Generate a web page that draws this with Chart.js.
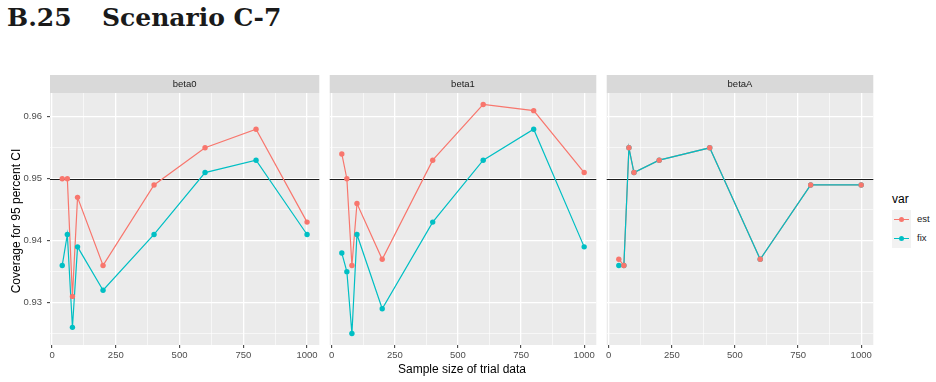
<!DOCTYPE html>
<html>
<head>
<meta charset="utf-8">
<script src="https://cdn.jsdelivr.net/npm/chart.js@4"></script>
<style>
  body { margin: 0; width: 936px; height: 382px; background: #fff; position: relative; overflow: hidden; font-family: "Liberation Sans", Arial, sans-serif; }
  canvas { position: absolute; }
  .head { position: absolute; top: 3px; font: bold 25px "DejaVu Serif", serif; color: #1a1a1a; white-space: nowrap; line-height: 30px; }
  .axtitle { position: absolute; font-size: 12px; line-height: 12px; color: #000; white-space: nowrap; text-align: center; }
  .legkey { position: absolute; left: 892px; width: 19px; height: 19px; background: #f2f2f2; }
  .legkey .ln { position: absolute; left: 2px; width: 15px; top: 9px; height: 1px; }
  .legkey .pt { position: absolute; left: 7px; top: 7px; width: 5px; height: 5px; border-radius: 50%; }
  .leglab { position: absolute; left: 917px; font-size: 9.5px; line-height: 10px; color: #1a1a1a; }
</style>
</head>
<body>
<div class="head" style="left:7px">B.25</div>
<div class="head" style="left:102px">Scenario C-7</div>

<canvas id="c0" width="322" height="310" style="left:0px;top:60px"></canvas>
<canvas id="c1" width="272" height="310" style="left:327px;top:60px"></canvas>
<canvas id="c2" width="272" height="310" style="left:604px;top:60px"></canvas>

<div class="axtitle" style="left:362px;top:363px;width:200px">Sample size of trial data</div>
<div class="axtitle" style="left:-84px;top:215px;width:200px;transform:rotate(-90deg)">Coverage for 95 percent CI</div>

<div class="axtitle" style="left:892px;top:193px;text-align:left">var</div>
<div class="legkey" style="top:210px"><div class="ln" style="background:#F8766D"></div><div class="pt" style="background:#F8766D"></div></div>
<div class="legkey" style="top:229px"><div class="ln" style="background:#00BFC4"></div><div class="pt" style="background:#00BFC4"></div></div>
<div class="leglab" style="top:214px">est</div>
<div class="leglab" style="top:233px">fix</div>

<script>
// --- DATA ---
const SAMPLE_SIZES = [40, 60, 80, 100, 200, 400, 600, 800, 1000];
const PANELS = ['beta0', 'beta1', 'betaA'];

const EST_BETA0 = [0.950, 0.950, 0.931, 0.947, 0.936, 0.949, 0.955, 0.958, 0.943];
const FIX_BETA0 = [0.936, 0.941, 0.926, 0.939, 0.932, 0.941, 0.951, 0.953, 0.941];
const EST_BETA1 = [0.954, 0.950, 0.936, 0.946, 0.937, 0.953, 0.962, 0.961, 0.951];
const FIX_BETA1 = [0.938, 0.935, 0.925, 0.941, 0.929, 0.943, 0.953, 0.958, 0.939];
const EST_BETAA = [0.937, 0.936, 0.955, 0.951, 0.953, 0.955, 0.937, 0.949, 0.949];
const FIX_BETAA = [0.936, 0.936, 0.955, 0.951, 0.953, 0.955, 0.937, 0.949, 0.949];

const X_TICKS = [0, 125, 250, 375, 500, 625, 750, 875, 1000];
const X_MAJOR = [0, 250, 500, 750, 1000];
const Y_TICKS = [0.925, 0.93, 0.935, 0.94, 0.945, 0.95, 0.955, 0.96];
const Y_MAJOR = [0.93, 0.94, 0.95, 0.96];
const REF_LINE = 0.95;

const EST_COLOR = '#F8766D';
const FIX_COLOR = '#00BFC4';
const FONT = '"Liberation Sans", Arial, sans-serif';

// ggplot-style 5% expansion of the data range
const allY = [].concat(EST_BETA0, FIX_BETA0, EST_BETA1, FIX_BETA1, EST_BETAA, FIX_BETAA);
const yLo = Math.min(...allY), yHi = Math.max(...allY);
const Y_MIN = yLo - (yHi - yLo) * 0.05, Y_MAX = yHi + (yHi - yLo) * 0.05;
const xLo = Math.min(...SAMPLE_SIZES), xHi = Math.max(...SAMPLE_SIZES);
const X_MIN = xLo - (xHi - xLo) * 0.05, X_MAX = xHi + (xHi - xLo) * 0.05;

const isIn = (arr, v) => arr.some(m => Math.abs(m - v) < 1e-9);
const toPts = ys => SAMPLE_SIZES.map((x, i) => ({ x: x, y: ys[i] }));

// panel background, strip and reference line
const facetPlugin = {
    id: 'facet',
    beforeDraw(chart, args, opts) {
        const { ctx, chartArea: a } = chart;
        ctx.save();
        ctx.fillStyle = '#ebebeb';
        ctx.fillRect(a.left, a.top, a.right - a.left, a.bottom - a.top);
        ctx.fillStyle = '#d9d9d9';
        ctx.fillRect(a.left, a.top - 18, a.right - a.left, 18);
        ctx.fillStyle = '#1a1a1a';
        ctx.font = '9.5px ' + FONT;
        ctx.textAlign = 'center';
        ctx.textBaseline = 'middle';
        ctx.fillText(opts.label, (a.left + a.right) / 2, a.top - 9);
        ctx.restore();
    },
    beforeDatasetsDraw(chart, args, opts) {
        const { ctx, chartArea: a } = chart;
        const y = Math.round(chart.scales.y.getPixelForValue(opts.refLine)) + 0.5;
        ctx.save();
        ctx.strokeStyle = '#1a1a1a';
        ctx.lineWidth = 1.2;
        ctx.beginPath();
        ctx.moveTo(a.left, y);
        ctx.lineTo(a.right, y);
        ctx.stroke();
        ctx.restore();
    }
};

function makePanel(id, label, est, fix, showY) {
    const lineDs = (data, color) => ({
        data: toPts(data), showLine: true, borderColor: color, borderWidth: 1.2,
        pointRadius: 0, pointHoverRadius: 0, tension: 0
    });
    const pointDs = (data, color) => ({
        data: toPts(data), showLine: false, backgroundColor: color, borderWidth: 0,
        pointRadius: 2.7, pointHoverRadius: 2.7
    });

    new Chart(document.getElementById(id), {
        type: 'scatter',
        data: {
            // first dataset ends up on top
            datasets: [
                pointDs(est, EST_COLOR),
                pointDs(fix, FIX_COLOR),
                lineDs(fix, FIX_COLOR),
                lineDs(est, EST_COLOR)
            ]
        },
        plugins: [facetPlugin],
        options: {
            responsive: false,
            animation: false,
            devicePixelRatio: 1,
            layout: { padding: { left: 0, right: 1, top: 33, bottom: 5 } },
            plugins: {
                legend: { display: false },
                tooltip: { enabled: false },
                facet: { label: label, refLine: REF_LINE }
            },
            scales: {
                x: {
                    type: 'linear',
                    min: X_MIN,
                    max: X_MAX,
                    afterBuildTicks: s => { s.ticks = X_TICKS.map(v => ({ value: v })); },
                    afterFit: s => { s.height = 20; },
                    border: { display: false },
                    grid: {
                        color: '#ffffff',
                        lineWidth: c => (c.tick && isIn(X_MAJOR, c.tick.value)) ? 1.3 : 0.6,
                        tickColor: c => (c.tick && isIn(X_MAJOR, c.tick.value)) ? '#333333' : 'rgba(0,0,0,0)',
                        tickLength: 3,
                        tickWidth: 1
                    },
                    ticks: {
                        callback: v => isIn(X_MAJOR, v) ? String(v) : '',
                        color: '#4d4d4d',
                        font: { family: FONT, size: 9.5 },
                        padding: 2,
                        maxRotation: 0,
                        autoSkip: false
                    }
                },
                y: {
                    type: 'linear',
                    min: Y_MIN,
                    max: Y_MAX,
                    afterBuildTicks: s => { s.ticks = Y_TICKS.map(v => ({ value: v })); },
                    afterFit: s => { s.width = showY ? 50 : 0; },
                    border: { display: false },
                    grid: {
                        color: '#ffffff',
                        lineWidth: c => (c.tick && isIn(Y_MAJOR, c.tick.value)) ? 1.3 : 0.6,
                        tickColor: c => (c.tick && isIn(Y_MAJOR, c.tick.value)) ? '#333333' : 'rgba(0,0,0,0)',
                        drawTicks: showY,
                        tickLength: 3,
                        tickWidth: 1
                    },
                    ticks: {
                        display: showY,
                        callback: v => isIn(Y_MAJOR, v) ? v.toFixed(2) : '',
                        color: '#4d4d4d',
                        font: { family: FONT, size: 9.5 },
                        padding: 5,
                        autoSkip: false
                    }
                }
            }
        }
    });
}

makePanel('c0', PANELS[0], EST_BETA0, FIX_BETA0, true);
makePanel('c1', PANELS[1], EST_BETA1, FIX_BETA1, false);
makePanel('c2', PANELS[2], EST_BETAA, FIX_BETAA, false);
</script>
</body>
</html>
